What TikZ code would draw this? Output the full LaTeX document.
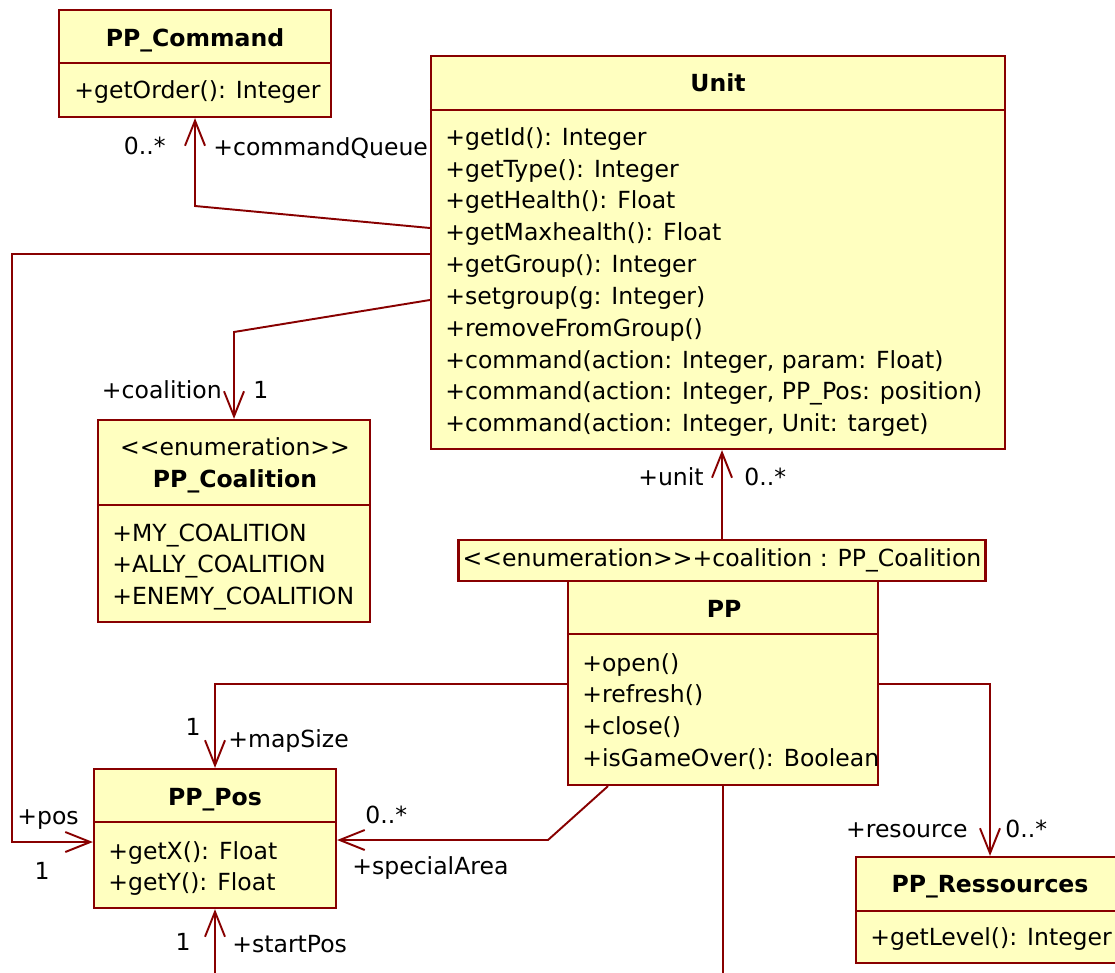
\documentclass[tikz,border=0pt]{standalone}
\usepackage{fontspec}
\setmainfont{DejaVu Sans}
\usepackage{tikz}
\usetikzlibrary{arrows.meta}
\definecolor{umlred}{HTML}{880000}
\definecolor{umlfill}{HTML}{FFFFC0}
\newcommand{\umlstereo}[1]{<\kern0pt<#1>\kern0pt>}

\begin{document}
\begin{tikzpicture}[
  x=0.02cm, y=-0.02cm,
  every node/.style={font=\fontsize{13.4}{18.1}\selectfont},
  cls/.style={draw=umlred, line width=1.3pt, fill=umlfill, inner sep=0pt},
  title/.style={font=\fontsize{13.4}{18.1}\selectfont\bfseries, inner sep=0pt},
  ops/.style={align=left, anchor=west, inner sep=0pt},
  lbl/.style={inner sep=0pt},
  sep/.style={draw=umlred, line width=1.3pt},
  assoc/.style={-{Straight Barb[length=0.5cm, width=0.4cm]}, draw=umlred, line width=1.1pt}
]
  \useasboundingbox (0,0) rectangle (1115,973);

  % classes
  \node[cls, minimum width=5.44cm, minimum height=2.14cm] (cmd) at (195,63.5) {};
  \node[title] (cmd-t) at (195,40) {PP\_Command};
  \draw[sep] (cmd.west |- 0,63) -- (cmd.east |- 0,63);
  \node[ops] (cmd-m) at (74,92) {+getOrder(): Integer};

  \node[cls, minimum width=11.48cm, minimum height=7.86cm] (unit) at (718,252.5) {};
  \node[title] (unit-t) at (718,83) {Unit};
  \draw[sep] (unit.west |- 0,110) -- (unit.east |- 0,110);
  \node[ops] (unit-m) at (445,282) {+getId(): Integer\\+getType(): Integer\\+getHealth(): Float\\+getMaxhealth(): Float\\+getGroup(): Integer\\+setgroup(g: Integer)\\+removeFromGroup()\\+command(action: Integer, param: Float)\\+command(action: Integer, PP\_Pos: position)\\+command(action: Integer, Unit: target)};

  \node[cls, minimum width=5.44cm, minimum height=4.04cm] (coal) at (234,521) {};
  \node[lbl] (coal-s) at (235,447) {\umlstereo{enumeration}};
  \node[title] (coal-t) at (235,481) {PP\_Coalition};
  \draw[sep] (coal.west |- 0,505) -- (coal.east |- 0,505);
  \node[ops] (coal-m) at (112,567) {+MY\_COALITION\\+ALLY\_COALITION\\+ENEMY\_COALITION};

  \node[cls, minimum width=10.54cm, minimum height=0.82cm] (stereo) at (722,560.5) {\umlstereo{enumeration}+coalition : PP\_Coalition};

  \node[cls, minimum width=6.2cm, minimum height=4.08cm] (pp) at (723,683) {};
  \node[title] (pp-t) at (724,609) {PP};
  \draw[sep] (pp.west |- 0,634) -- (pp.east |- 0,634);
  \node[ops] (pp-m) at (582,711.5) {+open()\\+refresh()\\+close()\\+isGameOver(): Boolean};

  \node[cls, minimum width=4.84cm, minimum height=2.78cm] (pos) at (215,838.5) {};
  \node[title] (pos-t) at (215,800) {PP\_Pos};
  \draw[sep] (pos.west |- 0,822) -- (pos.east |- 0,822);
  \node[ops] (pos-m) at (108,868.5) {+getX(): Float\\+getY(): Float};

  \node[cls, minimum width=5.36cm, minimum height=2.12cm] (res) at (990,910) {};
  \node[title] (res-t) at (990,887) {PP\_Ressources};
  \draw[sep] (res.west |- 0,911) -- (res.east |- 0,911);
  \node[ops] (res-m) at (870,939) {+getLevel(): Integer};

  % free ends below the picture
  \coordinate (pp-out) at (723,990);
  \coordinate (pos-in) at (215,990);

  % associations
  \draw[assoc] (unit.west |- 0,228) -- (cmd.south |- 0,206) -- (cmd.south);
  \draw[assoc] (unit.west |- 0,254) -- (12,254) -- (12,842) -- (pos.west |- 0,842);
  \draw[assoc] (unit.west |- 0,300) -- (coal.north |- 0,332) -- (coal.north);
  \draw[assoc] (stereo.north) -- (stereo.north |- unit.south);
  \draw[assoc] (pp.west |- 0,684) -| (pos.north);
  \draw[assoc] (pp.south -| 608,0) -- (548,840) -- (pos.east |- 0,840);
  \draw[assoc] (pp.east |- 0,684) -| (res.north);
  \draw[draw=umlred, line width=1.1pt] (pp.south) -- (pp-out);
  \draw[assoc] (pos-in) -- (pos.south);

  % role names and multiplicities
  \node[lbl, anchor=east] (cq-n) at (166,146) {0..*};
  \node[lbl, anchor=west] (cq-r) at (213,148) {+commandQueue};
  \node[lbl, anchor=east] (co-r) at (222,390) {+coalition};
  \node[lbl, anchor=west] (co-n) at (253,390) {1};
  \node[lbl, anchor=east] (un-r) at (704,477) {+unit};
  \node[lbl, anchor=west] (un-n) at (744,477) {0..*};
  \node[lbl] (ms-n) at (193,727) {1};
  \node[lbl, anchor=west] (ms-r) at (228,741) {+mapSize};
  \node[lbl, anchor=west] (ps-r) at (17,820) {+pos};
  \node[lbl] (ps-n) at (42,871) {1};
  \node[lbl, anchor=west] (sa-n) at (365,815) {0..*};
  \node[lbl, anchor=west] (sa-r) at (352,868) {+specialArea};
  \node[lbl, anchor=east] (rs-r) at (968,830) {+resource};
  \node[lbl, anchor=west] (rs-n) at (1005,829) {0..*};
  \node[lbl] (sp-n) at (183,942) {1};
  \node[lbl, anchor=west] (sp-r) at (232,944) {+startPos};
\end{tikzpicture}
\end{document}
